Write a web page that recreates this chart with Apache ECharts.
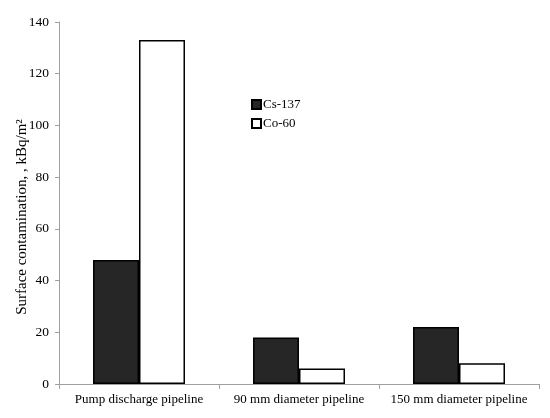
<!DOCTYPE html>
<html><head><meta charset="utf-8">
<script src="https://cdn.jsdelivr.net/npm/echarts@6/dist/echarts.min.js"></script>
<style>html,body{margin:0;padding:0;background:#fff}#c{width:550px;height:418px}</style>
</head><body><div id="c"></div>
<script>
const categories = ['Pump discharge pipeline', '90 mm diameter pipeline', '150 mm diameter pipeline'];
const cs137 = [48, 18, 22];
const co60 = [133, 6, 8];
const yTicks = [0, 20, 40, 60, 80, 100, 120, 140];
const font = 'Liberation Serif';
const chart = echarts.init(document.getElementById('c'));
chart.setOption({
  animation: false,
  backgroundColor: '#fff',
  grid: {left: 59, right: 11, top: 22, bottom: 34, outerBoundsMode: 'none', containLabel: false},
  legend: {
    orient: 'vertical', left: 246, top: 93, itemWidth: 9, itemHeight: 9, itemGap: 6,
    textStyle: {fontFamily: font, fontSize: 13, color: '#000', padding: [0, 0, 0, -3]},
    data: [{name: 'Cs-137', icon: 'rect'}, {name: 'Co-60', icon: 'rect'}]
  },
  xAxis: {
    type: 'category', data: categories,
    axisLine: {lineStyle: {color: '#a0a0a0'}},
    axisTick: {show: true, length: 5, lineStyle: {color: '#a0a0a0'}},
    axisLabel: {fontFamily: font, fontSize: 13, color: '#000', margin: 9, interval: 0}
  },
  yAxis: {
    type: 'value', min: 0, max: 140, interval: 20,
    name: 'Surface contamination, , kBq/m²', nameLocation: 'middle', nameGap: 29,
    nameMoveOverlap: false,
    nameTextStyle: {fontFamily: font, fontSize: 15, color: '#000', padding: [0, 28, 0, 0]},
    axisLine: {show: true, lineStyle: {color: '#a0a0a0'}},
    axisTick: {show: true, length: 4, lineStyle: {color: '#a0a0a0'}},
    splitLine: {show: false},
    axisLabel: {fontFamily: font, fontSize: 13.5, color: '#000', margin: 10,
      formatter: v => yTicks.includes(v) ? String(v) : ''}
  },
  series: [
    {name: 'Cs-137', type: 'bar', data: cs137, barGap: '0%', barCategoryGap: '42.5%',
     itemStyle: {color: '#262626', borderColor: '#000', borderWidth: 1.5}},
    {name: 'Co-60', type: 'bar', data: co60,
     itemStyle: {color: '#fff', borderColor: '#000', borderWidth: 1.5}}
  ]
});
</script></body></html>
